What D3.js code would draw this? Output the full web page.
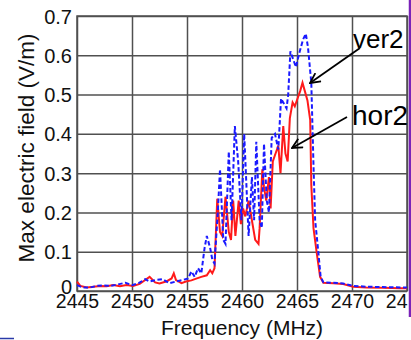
<!DOCTYPE html>
<html>
<head>
<meta charset="utf-8">
<script src="https://cdn.jsdelivr.net/npm/d3@7"></script>
<style>
	body { margin: 0; background: #fff; }
	svg { display: block; font-family: 'Liberation Sans', Arial, sans-serif; }
</style>
</head>
<body>
<div id="chart"></div>
<script>
// hor2 (red, solid)
const horFreq = [2445.0, 2445.3, 2445.9, 2446.5, 2447.1, 2447.7, 2448.3, 2448.9, 2449.5, 2450.1,
	2450.7, 2451.2, 2451.6, 2452.1, 2452.5, 2453.1, 2453.6, 2453.8, 2454.0, 2454.5,
	2454.9, 2455.4, 2455.9, 2456.3, 2456.8, 2457.1, 2457.3, 2457.5, 2457.75, 2458.0,
	2458.2, 2458.5, 2458.8, 2459.0, 2459.2, 2459.4, 2459.7, 2459.9, 2460.1, 2460.3,
	2460.6, 2460.9, 2461.2, 2461.5, 2461.6, 2461.85, 2462.0, 2462.2, 2462.45, 2462.6,
	2462.8, 2463.05, 2463.3, 2463.5, 2463.75, 2463.95, 2464.15, 2464.35, 2464.6, 2464.8,
	2465.05, 2465.3, 2465.5, 2465.7, 2465.95, 2466.2, 2466.3, 2466.5, 2466.8, 2467.1,
	2467.4, 2468.3, 2469.2, 2470.1, 2471.3, 2472.8, 2474.4, 2475.0];
const horVal = [0.024, 0.013, 0.009, 0.011, 0.013, 0.012, 0.015, 0.012, 0.015, 0.013,
	0.018, 0.028, 0.036, 0.022, 0.019, 0.024, 0.032, 0.045, 0.028, 0.020,
	0.024, 0.027, 0.032, 0.036, 0.040, 0.053, 0.045, 0.058, 0.235, 0.150,
	0.140, 0.240, 0.150, 0.130, 0.230, 0.140, 0.230, 0.170, 0.210, 0.190,
	0.230, 0.180, 0.130, 0.120, 0.160, 0.310, 0.265, 0.230, 0.290, 0.210,
	0.330, 0.350, 0.370, 0.300, 0.420, 0.350, 0.330, 0.440, 0.480, 0.470,
	0.490, 0.510, 0.530, 0.510, 0.485, 0.435, 0.270, 0.160, 0.096, 0.036,
	0.021, 0.020, 0.018, 0.011, 0.009, 0.008, 0.007, 0.007];

// ver2 (blue, dashed)
const verFreq = [2445.0, 2445.5, 2446.2, 2446.8, 2447.4, 2448.0, 2448.6, 2449.4, 2450.0, 2450.6,
	2451.2, 2451.6, 2452.2, 2452.8, 2453.4, 2454.0, 2454.6, 2455.1, 2455.4, 2455.7,
	2456.0, 2456.3, 2456.6, 2456.8, 2457.1, 2457.3, 2457.5, 2457.8, 2458.0, 2458.3,
	2458.5, 2458.8, 2459.05, 2459.35, 2459.65, 2459.95, 2460.2, 2460.6, 2460.9, 2461.1,
	2461.3, 2461.6, 2461.8, 2462.0, 2462.25, 2462.45, 2462.7, 2463.0, 2463.3, 2463.55,
	2463.75, 2464.05, 2464.2, 2464.4, 2464.65, 2464.9, 2465.2, 2465.55, 2465.8, 2466.0,
	2466.3, 2466.5, 2466.65, 2466.95, 2467.15, 2467.4, 2468.3, 2469.2, 2470.1, 2471.3,
	2472.8, 2474.4, 2475.0];
const verVal = [0.015, 0.009, 0.009, 0.013, 0.014, 0.013, 0.016, 0.021, 0.015, 0.020,
	0.030, 0.024, 0.028, 0.030, 0.020, 0.024, 0.028, 0.032, 0.050, 0.036,
	0.058, 0.045, 0.110, 0.140, 0.110, 0.080, 0.070, 0.200, 0.310, 0.130,
	0.120, 0.355, 0.180, 0.420, 0.330, 0.180, 0.400, 0.140, 0.290, 0.180,
	0.380, 0.180, 0.160, 0.375, 0.230, 0.200, 0.390, 0.400, 0.360, 0.490,
	0.480, 0.465, 0.500, 0.610, 0.590, 0.570, 0.605, 0.640, 0.655, 0.620,
	0.530, 0.320, 0.180, 0.096, 0.036, 0.022, 0.021, 0.019, 0.013, 0.011,
	0.010, 0.009, 0.009];

const xTicks = [2445, 2450, 2455, 2460, 2465, 2470, 2475];
const yTicks = [0, 0.1, 0.2, 0.3, 0.4, 0.5, 0.6, 0.7];

const width = 411;
const height = 340;
const margin = {top: 16, right: 4, bottom: 49, left: 77};

const svg = d3.select('#chart')
	.append('svg')
		.attr('width', width)
		.attr('height', height);

const x = d3.scaleLinear()
	.domain([2445, 2475])
	.range([margin.left, width - margin.right]);
const y = d3.scaleLinear()
	.domain([0, 0.7])
	.range([height - margin.bottom, margin.top]);

svg.append('defs')
	.append('clipPath')
		.attr('id', 'cut')
	.append('rect')
		.attr('x', 0)
		.attr('y', 0)
		.attr('width', 408)
		.attr('height', height);

// grid
svg.append('g')
	.attr('class', 'grid')
	.attr('transform', `translate(0,${y(0)})`)
	.call(d3.axisBottom(x).tickValues(xTicks).tickSize(-(y(0) - y(0.7))).tickFormat(''))
	.call(g => g.select('.domain').remove());
svg.append('g')
	.attr('class', 'grid')
	.attr('transform', `translate(${x(2445)},0)`)
	.call(d3.axisLeft(y).tickValues(yTicks).tickSize(-(x(2475) - x(2445))).tickFormat(''))
	.call(g => g.select('.domain').remove());
svg.selectAll('.grid line')
	.attr('stroke', '#505050')
	.attr('stroke-width', 1.5);

svg.append('rect')
	.attr('x', x(2445))
	.attr('y', y(0.7))
	.attr('width', x(2475) - x(2445))
	.attr('height', y(0) - y(0.7))
	.attr('fill', 'none')
	.attr('stroke', '#505050')
	.attr('stroke-width', 1.5);

// tick labels
const xAxis = svg.append('g')
	.attr('clip-path', 'url(#cut)')
	.attr('transform', `translate(0,${y(0)})`)
	.call(d3.axisBottom(x).tickValues(xTicks).tickSize(0).tickPadding(3).tickFormat(d3.format('d')));
xAxis.select('.domain').remove();
xAxis.selectAll('text')
	.attr('font-size', 19.5)
	.attr('font-family', "'Liberation Sans', Arial, sans-serif")
	.attr('fill', '#111');

const yAxis = svg.append('g')
	.attr('transform', `translate(${x(2445)},0)`)
	.call(d3.axisLeft(y).tickValues(yTicks).tickSize(0).tickPadding(5).tickFormat(d => d === 0 ? '0' : d3.format('.1f')(d)));
yAxis.select('.domain').remove();
yAxis.selectAll('text')
	.attr('font-size', 20)
	.attr('font-family', "'Liberation Sans', Arial, sans-serif")
	.attr('fill', '#111')
	.attr('dy', d => d === 0 ? '0.12em' : '0.35em');

// axis titles
svg.append('text')
	.attr('x', 242)
	.attr('y', 335)
	.attr('text-anchor', 'middle')
	.attr('font-size', 21)
	.attr('fill', '#111')
	.text('Frequency (MHz)');
svg.append('text')
	.attr('transform', 'translate(34,148) rotate(-90)')
	.attr('text-anchor', 'middle')
	.attr('font-size', 22.5)
	.attr('fill', '#111')
	.text('Max electric field (V/m)');

// series
const line = d3.line()
	.x(d => x(d[0]))
	.y(d => y(d[1]));

svg.append('path')
	.datum(horFreq.map((f, i) => [f, horVal[i]]))
	.attr('d', line)
	.attr('fill', 'none')
	.attr('stroke', '#ff1a1a')
	.attr('stroke-width', 2);

svg.append('path')
	.datum(verFreq.map((f, i) => [f, verVal[i]]))
	.attr('d', line)
	.attr('fill', 'none')
	.attr('stroke', '#1a1aff')
	.attr('stroke-width', 2)
	.attr('stroke-dasharray', '4.5,2.5');

// annotations
svg.select('defs')
	.append('marker')
		.attr('id', 'arrow')
		.attr('viewBox', '0 0 12 12')
		.attr('refX', 11)
		.attr('refY', 6)
		.attr('markerWidth', 12)
		.attr('markerHeight', 12)
		.attr('markerUnits', 'userSpaceOnUse')
		.attr('orient', 'auto')
	.append('path')
		.attr('d', 'M1,1 L11,6 L1,11')
		.attr('fill', 'none')
		.attr('stroke', '#000')
		.attr('stroke-width', 1.8);

const notes = [
	{label: 'ver2', tx: 353, ty: 48, size: 26, from: [360, 48], to: [310, 83]},
	{label: 'hor2', tx: 352, ty: 125, size: 28, from: [347, 117], to: [292, 148]},
];
notes.forEach(n => {
	svg.append('line')
		.attr('x1', n.from[0])
		.attr('y1', n.from[1])
		.attr('x2', n.to[0])
		.attr('y2', n.to[1])
		.attr('stroke', '#000')
		.attr('stroke-width', 1.8)
		.attr('marker-end', 'url(#arrow)');
	svg.append('text')
		.attr('x', n.tx)
		.attr('y', n.ty)
		.attr('font-size', n.size)
		.attr('fill', '#000')
		.text(n.label);
});

// slide edge leftovers
svg.append('line')
	.attr('x1', 410)
	.attr('y1', 0)
	.attr('x2', 410)
	.attr('y2', 317)
	.attr('stroke', '#7a22b8')
	.attr('stroke-width', 2.5);
svg.append('line')
	.attr('x1', 0)
	.attr('y1', 338.5)
	.attr('x2', 14)
	.attr('y2', 338.5)
	.attr('stroke', '#2a3aa8')
	.attr('stroke-width', 1.5);
</script>
</body>
</html>
